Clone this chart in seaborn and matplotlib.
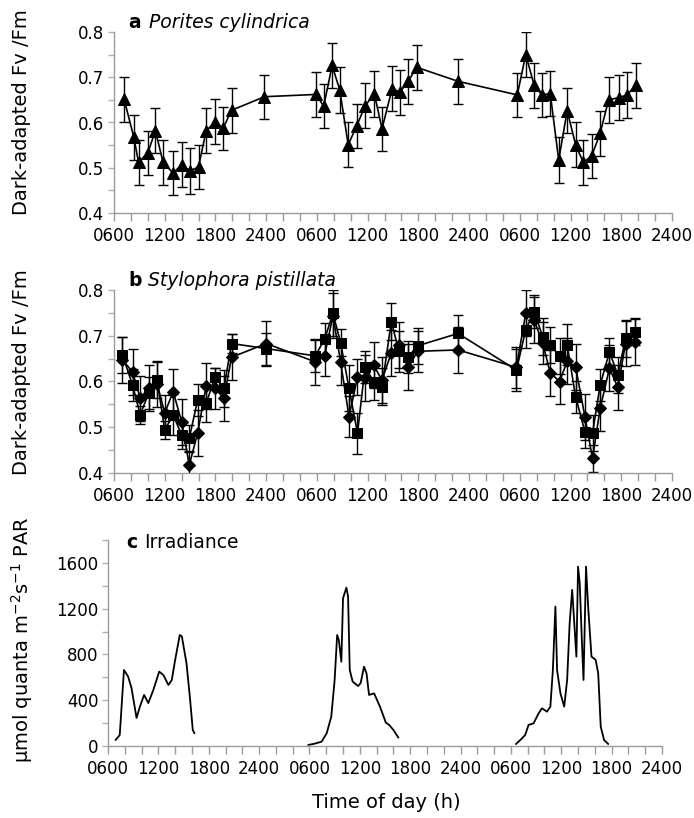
import numpy as np
import pandas as pd
import matplotlib
matplotlib.use("Agg")
import matplotlib.pyplot as plt
import seaborn as sns
from matplotlib.ticker import MultipleLocator, FixedLocator

sns.set_style("ticks")
plt.rcParams['font.family'] = ['DejaVu Sans']
plt.rcParams['mathtext.fontset'] = 'dejavusans'
plt.rcParams['text.color'] = 'black'
plt.rcParams['axes.labelcolor'] = 'black'
plt.rcParams['xtick.labelcolor'] = 'black'
plt.rcParams['ytick.labelcolor'] = 'black'

# ---------------- data ----------------
# time axis in hours from midnight of day 1 (0600 day 1 = 6, 2400 day 3 = 72)
tick_hours = [6, 12, 18, 24, 30, 36, 42, 48, 54, 60, 66, 72]
tick_labels = ["0600", "1200", "1800", "2400"] * 3

# a: Porites cylindrica
por_h = [7.2, 8.35, 8.9, 10.0, 10.9, 11.8, 13.0, 14.0, 15.0, 16.0, 16.9, 18.0, 18.9, 19.9, 23.8,
         29.9, 30.8, 31.8, 32.7, 33.7, 34.7, 35.7, 36.8, 37.7, 38.9, 39.8, 40.8, 41.8, 46.7,
         53.7, 54.7, 55.7, 56.6, 57.6, 58.6, 59.6, 60.6, 61.5, 62.5, 63.5, 64.5, 65.7, 66.7, 67.7]
por_fvfm = [0.651, 0.567, 0.512, 0.533, 0.582, 0.512, 0.488, 0.507, 0.493, 0.502, 0.582, 0.602, 0.587, 0.627, 0.657,
            0.662, 0.636, 0.726, 0.672, 0.551, 0.592, 0.637, 0.663, 0.586, 0.675, 0.667, 0.691, 0.722, 0.691,
            0.661, 0.750, 0.682, 0.661, 0.664, 0.517, 0.626, 0.551, 0.512, 0.526, 0.576, 0.650, 0.655, 0.661, 0.682]
por_err = [0.049, 0.050, 0.050, 0.049, 0.050, 0.050, 0.049, 0.049, 0.050, 0.049, 0.050, 0.049, 0.048, 0.050, 0.049,
           0.050, 0.049, 0.050, 0.050, 0.049, 0.049, 0.050, 0.050, 0.049, 0.050, 0.050, 0.050, 0.050, 0.050,
           0.049, 0.049, 0.050, 0.049, 0.050, 0.050, 0.050, 0.049, 0.050, 0.049, 0.049, 0.050, 0.050, 0.050, 0.050]

# b: Stylophora pistillata, two series (squares and diamonds)
sty_h = [7.0, 8.2, 9.1, 10.1, 11.1, 12.0, 13.0, 14.0, 14.9, 15.9, 16.9, 17.95, 19.0, 19.9, 24.0,
         29.8, 30.9, 31.9, 32.8, 33.8, 34.8, 35.7, 36.7, 37.7, 38.8, 39.7, 40.8, 41.9, 46.7,
         53.6, 54.7, 55.7, 56.7, 57.6, 58.7, 59.6, 60.6, 61.7, 62.6, 63.5, 64.6, 65.6, 66.5, 67.6]
sty_sq = [0.658, 0.592, 0.527, 0.575, 0.603, 0.494, 0.527, 0.483, 0.476, 0.560, 0.552, 0.610, 0.585, 0.683, 0.672,
          0.656, 0.692, 0.749, 0.685, 0.585, 0.487, 0.632, 0.600, 0.589, 0.731, 0.666, 0.654, 0.678, 0.705,
          0.625, 0.713, 0.753, 0.698, 0.680, 0.656, 0.680, 0.567, 0.490, 0.487, 0.592, 0.665, 0.614, 0.694, 0.709]
sty_dm = [0.647, 0.621, 0.563, 0.586, 0.595, 0.531, 0.578, 0.512, 0.417, 0.488, 0.590, 0.585, 0.563, 0.653, 0.683,
          0.643, 0.656, 0.744, 0.643, 0.523, 0.610, 0.607, 0.636, 0.603, 0.663, 0.680, 0.631, 0.666, 0.669,
          0.631, 0.749, 0.734, 0.684, 0.619, 0.600, 0.644, 0.632, 0.523, 0.432, 0.541, 0.629, 0.587, 0.683, 0.687]
sty_sq_err = [0.040, 0.035, 0.020, 0.035, 0.040, 0.020, 0.045, 0.030, 0.030, 0.035, 0.040, 0.020, 0.040, 0.020, 0.035,
              0.035, 0.035, 0.050, 0.030, 0.050, 0.045, 0.035, 0.040, 0.040, 0.040, 0.045, 0.035, 0.040, 0.040,
              0.045, 0.040, 0.035, 0.040, 0.040, 0.040, 0.045, 0.035, 0.035, 0.040, 0.035, 0.030, 0.040, 0.040, 0.030]
sty_dm_err = [0.050, 0.050, 0.050, 0.050, 0.050, 0.040, 0.050, 0.050, 0.030, 0.050, 0.050, 0.045, 0.050, 0.050, 0.050,
              0.050, 0.045, 0.050, 0.050, 0.045, 0.040, 0.050, 0.050, 0.050, 0.050, 0.050, 0.050, 0.045, 0.050,
              0.045, 0.050, 0.050, 0.045, 0.050, 0.050, 0.050, 0.050, 0.050, 0.030, 0.050, 0.050, 0.050, 0.050, 0.050]

# c: irradiance (umol quanta m-2 s-1 PAR), one trace per day
par_day = [1] * 21 + [2] * 25 + [3] * 31
par_h = [6.9, 7.4, 7.9, 8.4, 8.8, 9.4, 9.8, 10.3, 10.8, 11.4, 12.1, 12.6, 13.2, 13.6, 14.0, 14.55, 14.8, 15.35, 15.75, 16.1, 16.3,
         29.85, 30.6, 31.45, 32.05, 32.6, 33.0, 33.3, 33.5, 33.8, 34.0, 34.4, 34.6, 34.8, 35.15, 35.8, 36.1, 36.5, 36.8, 37.1,
         37.7, 38.4, 39.1, 39.5, 40.0, 40.6,
         54.6, 55.2, 55.7, 56.1, 56.7, 57.3, 57.7, 58.3, 58.7, 59.0, 59.3, 59.5, 59.9, 60.35, 60.7, 61.0, 61.3, 61.6, 61.8,
         62.0, 62.2, 62.45, 62.65, 62.95, 63.2, 63.6, 64.1, 64.4, 64.7, 65.1, 65.6]
par_val = [52, 96, 664, 606, 507, 245, 344, 446, 375, 489, 650, 620, 533, 577, 752, 970, 957, 723, 431, 140, 111,
           9, 20, 38, 111, 256, 577, 970, 926, 737, 1291, 1384, 1305, 664, 562, 524, 550, 693, 635, 446,
           460, 344, 204, 184, 140, 73,
           17, 58, 96, 184, 198, 285, 329, 300, 344, 664, 1218, 664, 460, 344, 577, 1075, 1364, 1014, 781,
           1567, 1422, 926, 577, 1567, 1218, 781, 752, 635, 169, 52, 17]

# ---------------- figure ----------------
W, H = 694, 818
fig = plt.figure(figsize=(W / 100, H / 100), dpi=100)


def px_axes(left, top, right, bottom):
    return fig.add_axes([left / W, 1 - bottom / H, (right - left) / W, (bottom - top) / H])


def style(ax, ylim, major, minor, fmt):
    ax.set_xlim(6, 72)
    ax.xaxis.set_major_locator(FixedLocator(tick_hours))
    ax.set_xticklabels(tick_labels)
    ax.xaxis.set_minor_locator(MultipleLocator(2))
    ax.set_ylim(*ylim)
    ax.yaxis.set_major_locator(MultipleLocator(major))
    ax.yaxis.set_minor_locator(MultipleLocator(minor))
    ax.yaxis.set_major_formatter(fmt)
    for s in ("top", "right"):
        ax.spines[s].set_visible(False)
    for s in ("left", "bottom"):
        ax.spines[s].set_color("#9a9a9a")
        ax.spines[s].set_linewidth(1.0)
    ax.tick_params(axis="x", which="both", direction="out", length=6, width=1,
                   color="#9a9a9a", labelsize=12, labelcolor="black", pad=4)
    ax.tick_params(axis="y", which="both", direction="out", length=4, width=1,
                   color="#b0b0b0", labelsize=12, labelcolor="black", pad=3)
    ax.set_xlabel("")
    ax.set_ylabel("")


line_kw = dict(color="black", linewidth=1.2, estimator=None, sort=False,
               markeredgecolor="black", markerfacecolor="black")
err_kw = dict(fmt="none", ecolor="black", elinewidth=1.0, capsize=3.5, capthick=1.0)

# panel a
ax_a = px_axes(114, 32, 672, 213)
ax_a.errorbar(por_h, por_fvfm, yerr=por_err, **err_kw)
sns.lineplot(x=por_h, y=por_fvfm, marker="^", markersize=9, ax=ax_a, **line_kw)
style(ax_a, (0.4, 0.8), 0.1, 0.05, lambda v, p: f"{v:.1f}")

# panel b
ax_b = px_axes(114, 290, 672, 473)
ax_b.errorbar(sty_h, sty_dm, yerr=sty_dm_err, **err_kw)
ax_b.errorbar(sty_h, sty_sq, yerr=sty_sq_err, **err_kw)
sns.lineplot(x=sty_h, y=sty_dm, marker="D", markersize=6.5, ax=ax_b, **line_kw)
sns.lineplot(x=sty_h, y=sty_sq, marker="s", markersize=7.5, ax=ax_b, **line_kw)
style(ax_b, (0.4, 0.8), 0.1, 0.05, lambda v, p: f"{v:.1f}")

# panel c
ax_c = px_axes(108, 540, 662, 746)
par_df = pd.DataFrame({"day": par_day, "hour": par_h, "par": par_val})
sns.lineplot(data=par_df, x="hour", y="par", units="day", estimator=None, sort=False,
             color="black", linewidth=1.3, ax=ax_c)
style(ax_c, (0, 1800), 400, 200, lambda v, p: f"{v:.0f}")

# panel titles
fig.text(128 / W, 1 - 22 / H, "a", fontsize=13.5, fontweight="bold", va="center")
fig.text(149 / W, 1 - 22 / H, "Porites cylindrica", fontsize=13.5, style="italic", va="center")
fig.text(128 / W, 1 - 281 / H, "b", fontsize=13.5, fontweight="bold", va="center")
fig.text(148 / W, 1 - 281 / H, "Stylophora pistillata", fontsize=13.5, style="italic", va="center")
fig.text(126 / W, 1 - 543 / H, "c", fontsize=13.5, fontweight="bold", va="center")
fig.text(144 / W, 1 - 543 / H, "Irradiance", fontsize=13.5, va="center")

# axis labels
fig.text(22 / W, 1 - 112 / H, "Dark-adapted Fv /Fm", fontsize=14, rotation=90,
         ha="center", va="center")
fig.text(22 / W, 1 - 372 / H, "Dark-adapted Fv /Fm", fontsize=14, rotation=90,
         ha="center", va="center")
fig.text(22 / W, 1 - 640 / H, r"μmol quanta m$^{-2}$s$^{-1}$ PAR", fontsize=14, rotation=90,
         ha="center", va="center")
fig.text(386 / W, 1 - 802 / H, "Time of day (h)", fontsize=14, ha="center", va="center")

fig.savefig("out.png", dpi=100, facecolor="white")
